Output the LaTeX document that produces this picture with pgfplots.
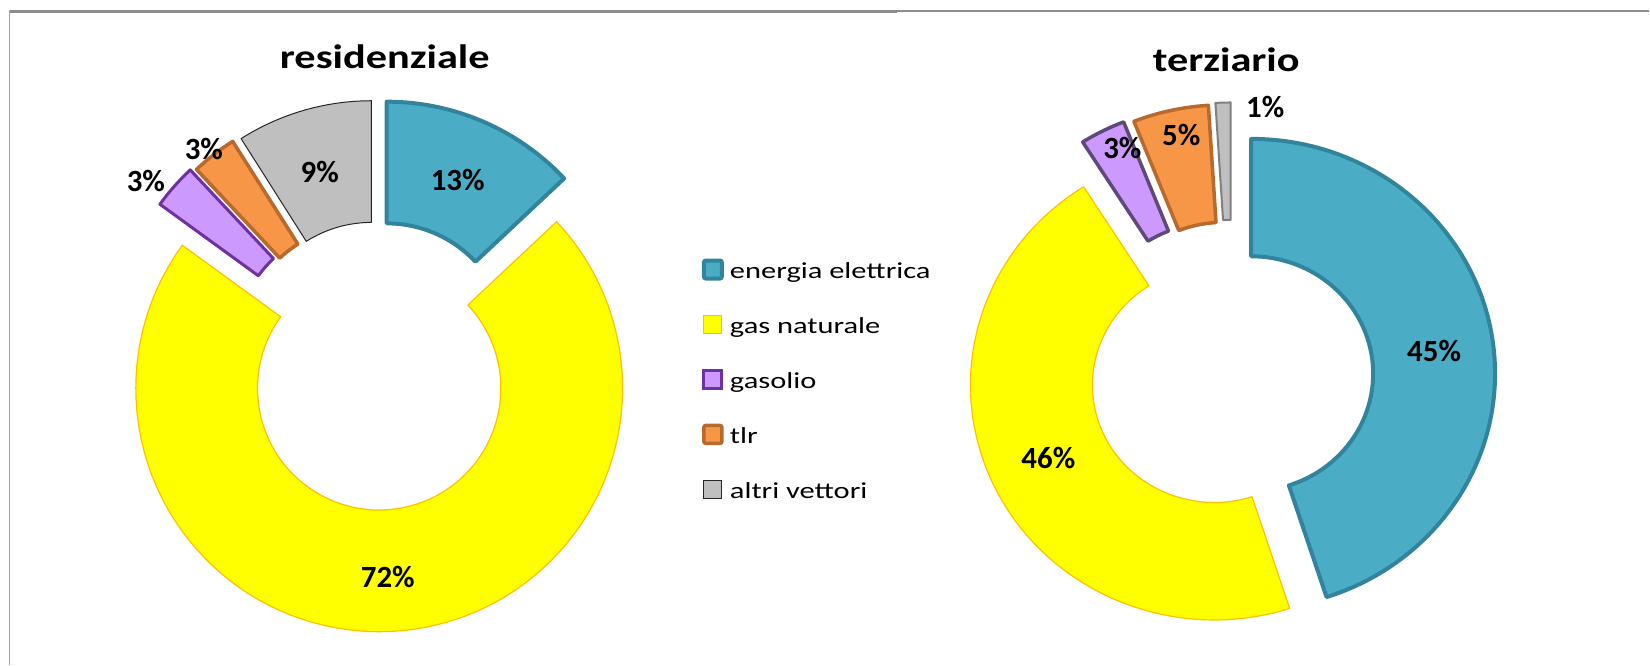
\documentclass[border=0pt]{standalone}
\usepackage{pgfplots}
\pgfplotsset{compat=1.18}
\usepackage{pgfplotstable}
\usepackage{fontspec}
\setmainfont{Carlito}
\newfontfamily\titlefont{Carlito}[FakeStretch=1.25]
\newfontfamily\legfont{Carlito}[FakeStretch=1.33]

\definecolor{F0}{HTML}{4BACC6}
\definecolor{F1}{HTML}{FFFF00}
\definecolor{F2}{HTML}{CC99FF}
\definecolor{F3}{HTML}{F79646}
\definecolor{F4}{HTML}{BFBFBF}
\definecolor{L0}{HTML}{31849B}
\definecolor{L1}{HTML}{FFC000}
\definecolor{L2}{HTML}{7030A0}
\definecolor{L3}{HTML}{B8692E}
\definecolor{L4}{HTML}{262626}
\definecolor{T0}{HTML}{31849B}
\definecolor{T1}{HTML}{FFC000}
\definecolor{T2}{HTML}{5F497A}
\definecolor{T3}{HTML}{B8692E}
\definecolor{T4}{HTML}{7F7F7F}
\definecolor{frame}{HTML}{8C8C8C}

% residenziale: value (%), explode (px), border width (px), label x, label y (px)
\pgfplotstableread{
val expl lw lx ly
13 22.6 4 458 180
72 22.6 1.2 388 577
3 28 3 146 181
3 24 3.5 204 149
9 22.6 1 320 172
}\tabres
% terziario
\pgfplotstableread{
val expl lw lx ly
45 19.5 4 1435 351
46 19.5 1.2 1049 458
3 41 3.5 1123 148
5 38 3.5 1182 135
1 39.5 2 1266 107
}\tabter

\newcommand\lblfont{\bfseries\fontsize{15.5}{18}\selectfont}

% #1 table, #2 cx, #3 cy, #4 R, #5 r, #6 border colour prefix, #7 yscale
\newcommand\donut[7]{%
  \def\cum{0}%
  \pgfplotsforeachungrouped \i in {0,...,4}{%
    \pgfplotstablegetelem{\i}{val}\of{#1}\let\v\pgfplotsretval
    \pgfplotstablegetelem{\i}{expl}\of{#1}\let\e\pgfplotsretval
    \pgfplotstablegetelem{\i}{lw}\of{#1}\let\lw\pgfplotsretval
    \pgfplotstablegetelem{\i}{lx}\of{#1}\let\lx\pgfplotsretval
    \pgfplotstablegetelem{\i}{ly}\of{#1}\let\ly\pgfplotsretval
    \pgfmathsetmacro\aone{90-3.6*\cum}%
    \pgfmathsetmacro\atwo{90-3.6*(\cum+\v)}%
    \pgfmathsetmacro\amid{(\aone+\atwo)/2}%
    \pgfmathsetmacro\eb{0.5*\e}%
    \pgfmathsetmacro\Rb{0.5*#4}%
    \pgfmathsetmacro\rb{0.5*#5}%
    \pgfmathsetmacro\lwb{0.5*\lw}%
    \edef\cmd{\noexpand\filldraw[fill=F\i, draw=#6\i, line width=\lwb bp, line join=round,
      shift={(axis cs:#2,#3)}, shift={(\amid:\eb bp)}, yscale=#7]
      (\aone:\Rb bp) arc[start angle=\aone, end angle=\atwo, radius=\Rb bp]
      -- (\atwo:\rb bp) arc[start angle=\atwo, end angle=\aone, radius=\rb bp] -- cycle;
      \noexpand\node[inner sep=0pt, font=\noexpand\lblfont] at (axis cs:\lx,\ly) {\v\noexpand\%};}%
    \cmd
    \pgfmathsetmacro\cum{\cum+\v}%
  }%
}

\begin{document}
\begin{tikzpicture}
\begin{axis}[x=0.5bp, y=0.5bp, xmin=0, xmax=1650, ymin=0, ymax=665,
  y dir=reverse, hide axis, clip=false]
\path (axis cs:0,0) rectangle (axis cs:1650,665);
% frame
\draw[frame, line width=1.5bp] (axis cs:10,11.5) -- (axis cs:898,11.5);
\draw[frame, line width=1bp] (axis cs:898,11.3) -- (axis cs:1650,11.3);
\draw[frame!80, line width=0.5bp] (axis cs:10,10) -- (axis cs:10,665);
% titles
\node[anchor=base, inner sep=0pt, font=\titlefont\bfseries\fontsize{17}{20}\selectfont] at (axis cs:385,68.3) {residenziale};
\node[anchor=base, inner sep=0pt, font=\titlefont\bfseries\fontsize{17}{20}\selectfont] at (axis cs:1227,71.7) {terziario};
% donuts
\donut{\tabres}{378}{366}{243.5}{121.75}{L}{1}
\donut{\tabter}{1232.7}{377}{244}{122}{T}{0.963}
% legend
\filldraw[fill=F0, draw=L0, line width=2bp, rounded corners=1bp] (axis cs:704.3,260.7) rectangle (axis cs:722.3,278.7);
\filldraw[fill=F1, draw=L1, line width=0.6bp] (axis cs:704.3,315.7) rectangle (axis cs:722.3,333.7);
\filldraw[fill=F2, draw=L2, line width=1.5bp] (axis cs:704.3,370.7) rectangle (axis cs:722.3,388.7);
\filldraw[fill=F3, draw=L3, line width=1.75bp, rounded corners=1bp] (axis cs:704.3,425.7) rectangle (axis cs:722.3,443.7);
\filldraw[fill=F4, draw=L4, line width=0.6bp] (axis cs:704.3,480.7) rectangle (axis cs:722.3,498.7);
\node[anchor=base west, inner sep=0pt, font=\legfont\fontsize{11.5}{13}\selectfont] at (axis cs:730,278.3) {energia elettrica};
\node[anchor=base west, inner sep=0pt, font=\legfont\fontsize{11.5}{13}\selectfont] at (axis cs:730,333.3) {gas naturale};
\node[anchor=base west, inner sep=0pt, font=\legfont\fontsize{11.5}{13}\selectfont] at (axis cs:730,388.3) {gasolio};
\node[anchor=base west, inner sep=0pt, font=\legfont\fontsize{11.5}{13}\selectfont] at (axis cs:730,443.3) {tlr};
\node[anchor=base west, inner sep=0pt, font=\legfont\fontsize{11.5}{13}\selectfont] at (axis cs:730,498.3) {altri vettori};
\end{axis}
\end{tikzpicture}
\end{document}
